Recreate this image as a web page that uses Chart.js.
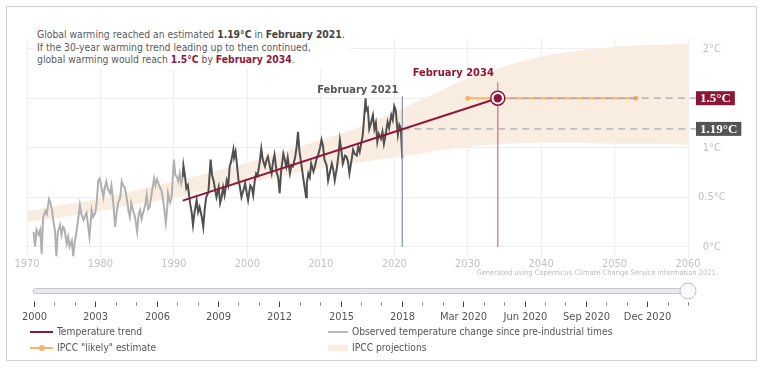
<!DOCTYPE html>
<html>
<head>
<meta charset="utf-8">
<script src="https://cdn.jsdelivr.net/npm/chart.js@4.4.0/dist/chart.umd.min.js"></script>
<style>
  html, body { margin: 0; padding: 0; background: #fff; }
  #wrap { position: relative; width: 768px; height: 369px; overflow: hidden;
          font-family: "DejaVu Sans Condensed", "DejaVu Sans", sans-serif; }
  #frame { position: absolute; left: 6px; top: 6px; width: 751px; height: 355px;
           border: 1px solid #d2d2d2; box-sizing: border-box; }
  canvas { position: absolute; left: 0; top: 0; }
  #note { position: absolute; left: 33px; top: 27px; font-size: 10.3px; line-height: 12.6px;
          color: #5a5a5a; background: #fff; padding: 1px 4px 3px 4px; }
  #note b { color: #444; }
  #note .hl { color: #8c1a3e; }
  .leg { position: absolute; font-size: 10.2px; color: #555; line-height: 12px; white-space: nowrap; }
  .sw { position: absolute; }
</style>
</head>
<body>
<div id="wrap">
  <div id="frame"></div>
  <canvas id="chart" width="768" height="369"></canvas>
  <div id="note">
    Global warming reached an estimated <b>1.19°C</b> in <b>February 2021</b>.<br>
    If the 30-year warming trend leading up to then continued,<br>
    global warming would reach <b class="hl">1.5°C</b> by <b class="hl">February 2034</b>.
  </div>
  <div class="sw" style="left:30px;top:331px;width:23px;height:2px;background:#8c1538"></div>
  <div class="leg" style="left:57px;top:326px">Temperature trend</div>
  <div class="sw" style="left:30px;top:347px;width:23px;height:2px;background:#f3b56a"></div>
  <div class="sw" style="left:39px;top:345px;width:6px;height:6px;border-radius:3px;background:#f3b56a"></div>
  <div class="leg" style="left:57px;top:342px">IPCC "likely" estimate</div>
  <div class="sw" style="left:328px;top:331px;width:20px;height:2px;background:#b8b8b8"></div>
  <div class="leg" style="left:352px;top:326px">Observed temperature change since pre-industrial times</div>
  <div class="sw" style="left:328px;top:345px;width:20px;height:6px;background:#f9ece1"></div>
  <div class="leg" style="left:352px;top:342px">IPCC projections</div>
</div>
<script>
// observed warming (°C above pre-industrial)
const obsYears = [
  1970.9, 1971.1, 1971.3, 1971.6, 1971.8, 1972.0, 1972.2, 1972.5, 1972.7, 1973.0,
  1973.2, 1973.4, 1973.6, 1973.8, 1974.0, 1974.2, 1974.5, 1974.7, 1974.9, 1975.1,
  1975.4, 1975.6, 1975.8, 1976.1, 1976.3, 1976.5, 1976.7, 1977.0, 1977.2, 1977.4,
  1977.7, 1977.9, 1978.1, 1978.3, 1978.5, 1978.8, 1979.0, 1979.3, 1979.5, 1979.7,
  1979.9, 1980.2, 1980.4, 1980.6, 1980.8, 1981.0, 1981.3, 1981.5, 1981.8, 1982.0,
  1982.2, 1982.4, 1982.7, 1982.9, 1983.1, 1983.3, 1983.6, 1983.8, 1984.0, 1984.2,
  1984.5, 1984.7, 1985.0, 1985.2, 1985.4, 1985.6, 1985.8, 1986.1, 1986.3, 1986.5,
  1986.7, 1987.0, 1987.3, 1987.5, 1987.7, 1987.9, 1988.1, 1988.3, 1988.6, 1988.9,
  1989.1, 1989.2, 1989.5, 1989.7, 1990.0, 1990.2, 1990.4, 1990.6, 1990.8, 1991.0,
  1991.2, 1991.3, 1991.5, 1991.7, 1991.9, 1992.2, 1992.4, 1992.6, 1992.8, 1993.1,
  1993.3, 1993.5, 1993.8, 1994.0, 1994.2, 1994.4, 1994.7, 1995.0, 1995.2, 1995.4,
  1995.6, 1995.8, 1996.1, 1996.3, 1996.5, 1996.7, 1996.9, 1997.2, 1997.4, 1997.6,
  1997.8, 1998.1, 1998.2, 1998.4, 1998.6, 1998.8, 1999.0, 1999.2, 1999.5, 1999.7,
  1999.9, 2000.1, 2000.4, 2000.6, 2000.8, 2001.0, 2001.2, 2001.4, 2001.7, 2001.9,
  2002.1, 2002.4, 2002.6, 2002.8, 2003.1, 2003.3, 2003.5, 2003.7, 2004.0, 2004.2,
  2004.4, 2004.6, 2004.9, 2005.1, 2005.3, 2005.5, 2005.8, 2006.0, 2006.2, 2006.5,
  2006.7, 2006.9, 2007.1, 2007.4, 2007.6, 2007.8, 2008.0, 2008.1, 2008.3, 2008.5,
  2008.7, 2009.0, 2009.2, 2009.4, 2009.7, 2009.9, 2010.1, 2010.3, 2010.5, 2010.8,
  2011.0, 2011.2, 2011.5, 2011.7, 2011.9, 2012.2, 2012.4, 2012.6, 2012.8, 2013.0,
  2013.3, 2013.5, 2013.7, 2013.9, 2014.2, 2014.4, 2014.6, 2014.9, 2015.1, 2015.3,
  2015.5, 2015.7, 2015.9, 2016.1, 2016.2, 2016.4, 2016.6, 2016.8, 2017.1, 2017.3,
  2017.5, 2017.7, 2017.9, 2018.2, 2018.4, 2018.6, 2018.8, 2019.1, 2019.3, 2019.6,
  2019.8, 2020.0, 2020.2, 2020.5, 2020.7, 2020.9, 2021.1
];
const obsTemps = [
  0.15, 0.00, 0.17, 0.12, 0.17, -0.07, 0.30, 0.36, 0.33, 0.48,
  0.44, 0.37, 0.25, 0.17, -0.10, 0.15, 0.22, 0.12, 0.20, 0.18,
  0.03, 0.10, 0.00, 0.06, -0.10, 0.05, 0.13, 0.30, 0.42, 0.33,
  0.27, 0.31, 0.34, 0.22, 0.10, 0.37, 0.30, 0.34, 0.45, 0.67,
  0.69, 0.58, 0.50, 0.60, 0.66, 0.58, 0.54, 0.62, 0.40, 0.20,
  0.34, 0.44, 0.50, 0.66, 0.62, 0.60, 0.48, 0.37, 0.30, 0.44,
  0.35, 0.30, 0.15, 0.33, 0.37, 0.28, 0.34, 0.42, 0.52, 0.38,
  0.40, 0.55, 0.69, 0.62, 0.68, 0.64, 0.60, 0.57, 0.44, 0.24,
  0.40, 0.54, 0.45, 0.50, 0.88, 0.72, 0.71, 0.66, 0.74, 0.64,
  0.70, 0.82, 0.72, 0.59, 0.62, 0.44, 0.36, 0.22, 0.34, 0.47,
  0.35, 0.40, 0.30, 0.20, 0.38, 0.50, 0.55, 0.88, 0.72, 0.67,
  0.58, 0.50, 0.60, 0.44, 0.50, 0.60, 0.52, 0.67, 0.62, 0.81,
  0.86, 0.98, 0.90, 0.96, 0.82, 0.67, 0.60, 0.50, 0.58, 0.64,
  0.55, 0.47, 0.62, 0.60, 0.52, 0.66, 0.74, 0.72, 0.86, 0.99,
  0.88, 0.81, 0.87, 0.91, 0.80, 0.74, 0.86, 0.93, 0.75, 0.70,
  0.54, 0.76, 0.94, 0.88, 0.81, 0.90, 0.74, 0.82, 0.81, 0.90,
  1.00, 1.16, 0.96, 0.81, 0.70, 0.60, 0.50, 0.64, 0.74, 0.70,
  0.84, 0.76, 0.81, 0.88, 0.94, 1.00, 1.08, 1.02, 0.88, 0.82,
  0.67, 0.74, 0.84, 0.78, 0.67, 0.80, 0.92, 1.08, 0.98, 0.84,
  0.92, 0.91, 0.86, 0.74, 0.88, 0.98, 0.94, 0.92, 1.01, 0.96,
  1.04, 1.12, 1.30, 1.50, 1.38, 1.40, 1.19, 1.24, 1.33, 1.19,
  1.25, 1.06, 1.14, 1.09, 1.16, 1.04, 1.12, 1.26, 1.20, 1.33,
  1.28, 1.42, 1.38, 1.13, 1.23, 1.20, 0.89
];
const trendStart = 1991.2;   // start of the 30-year window

// IPCC projection band
const bandYears = [1970, 1975, 1980, 1985, 1990, 1995, 2000, 2005, 2010, 2015, 2020, 2025, 2030, 2035, 2040, 2045, 2050, 2055, 2060];
const bandHigh  = [0.36, 0.42, 0.49, 0.57, 0.66, 0.75, 0.85, 0.96, 1.08, 1.20, 1.36, 1.53, 1.70, 1.82, 1.92, 1.98, 2.02, 2.04, 2.05];
const bandLow   = [0.25, 0.30, 0.36, 0.43, 0.50, 0.57, 0.64, 0.72, 0.79, 0.85, 0.90, 0.96, 1.01, 1.04, 1.05, 1.05, 1.04, 1.04, 1.03];

// trend and milestones
const trendYears = [1991.2, 2034.1];
const trendTemps = [0.465, 1.5];
const nowYear = 2021.1, nowTemp = 1.19, nowLabel = "February 2021";
const hitYear = 2034.1, hitTemp = 1.5, hitLabel = "February 2034";
const likelyYears = [2030, 2052.9];
const boxEndYear = 2061.1;

const xTicks = [1970, 1980, 1990, 2000, 2010, 2020, 2030, 2040, 2050, 2060];
const yTicks = [0, 0.5, 1, 1.5, 2];
const sliderLabels = ["2000", "2003", "2006", "2009", "2012", "2015", "2018", "Mar 2020", "Jun 2020", "Sep 2020", "Dec 2020"];

const FONT = '"DejaVu Sans Condensed", "DejaVu Sans", sans-serif';
const MAROON = "#8c1538";
const ORANGE = "#f3b56a";
const PEACH = "#f9ece1";

const pts = (xs, ys) => xs.map((x, i) => ({ x: x, y: ys[i] }));
const obsAll = pts(obsYears, obsTemps);
const obsLight = obsAll.filter(p => p.x <= trendStart);
const obsDark = obsAll.filter(p => p.x >= trendStart);

const line = (data, color, width, order, extra) => Object.assign({
  data: data, borderColor: color, borderWidth: width, pointRadius: 0,
  fill: false, tension: 0, order: order
}, extra || {});

const overlay = {
  id: "overlay",
  afterDatasetsDraw(chart) {
    const ctx = chart.ctx, xs = chart.scales.x, ys = chart.scales.y;
    ctx.save();
    // milestone labels
    ctx.textBaseline = "middle";
    ctx.textAlign = "right";
    ctx.font = "bold 11px " + FONT;
    ctx.fillStyle = "#555";
    ctx.fillText(nowLabel, xs.getPixelForValue(nowYear) - 4, 90);
    ctx.fillStyle = MAROON;
    ctx.fillText(hitLabel, xs.getPixelForValue(hitYear) - 4, 73);

    // value boxes on the right
    const boxX = xs.right + 8;
    ctx.font = "bold 13px 'Liberation Serif', serif";
    [[hitTemp, MAROON], [nowTemp, "#555"]].forEach(([v, col]) => {
      const t = v + "°C";
      const w = ctx.measureText(t).width + 8;
      const cy = ys.getPixelForValue(v);
      ctx.fillStyle = col;
      ctx.fillRect(boxX, cy - 7, w, 14);
      ctx.fillStyle = "#fff";
      ctx.textAlign = "left";
      ctx.fillText(t, boxX + 4, cy + 0.5);
    });

    // source credit
    ctx.font = "7.5px " + FONT;
    ctx.fillStyle = "#bdbdbd";
    ctx.textAlign = "right";
    ctx.fillText("Generated using Copernicus Climate Change Service information 2021.", 718, 273);

    // time slider
    const sl = 33, sr = 690, sy = 291;
    ctx.fillStyle = "#e9e9ee";
    ctx.strokeStyle = "#c8c8cc";
    ctx.lineWidth = 1;
    ctx.beginPath();
    ctx.roundRect(sl, sy - 2.5, sr - sl, 5, 2.5);
    ctx.fill(); ctx.stroke();
    ctx.beginPath();
    ctx.arc(688, sy, 8, 0, Math.PI * 2);
    ctx.fillStyle = "#fafafa"; ctx.fill();
    ctx.strokeStyle = "#bfc0c8"; ctx.stroke();

    const t0 = 34, t1 = 688, n = 32;
    ctx.font = "11px " + FONT;
    ctx.textAlign = "center";
    for (let i = 0; i <= n; i++) {
      const x = Math.round(t0 + (t1 - t0) * i / n) + 0.5;
      const major = i % 3 === 0;
      ctx.strokeStyle = major ? "#444" : "#777";
      ctx.beginPath();
      ctx.moveTo(x, major ? 301.5 : 302.5);
      ctx.lineTo(x, major ? 307 : 305.5);
      ctx.stroke();
      if (major && sliderLabels[i / 3]) {
        ctx.fillStyle = "#555";
        ctx.fillText(sliderLabels[i / 3], x, 317);
      }
    }
    ctx.restore();
  }
};

new Chart(document.getElementById("chart").getContext("2d"), {
  type: "line",
  data: {
    datasets: [
      line(pts(bandYears, bandHigh), PEACH, 0, 20, { fill: "+1", backgroundColor: PEACH, cubicInterpolationMode: "monotone" }),
      line(pts(bandYears, bandLow), PEACH, 0, 21, { cubicInterpolationMode: "monotone" }),
      line(obsLight, "#b0b0b0", 2, 19),
      line(obsDark, "#505050", 2, 18),
      line([{ x: nowYear, y: nowTemp }, { x: boxEndYear, y: nowTemp }], "#aaaaaa", 1.3, 17, { borderDash: [7, 5], clip: false }),
      line([{ x: nowYear, y: 0 }, { x: nowYear, y: 1.52 }], "#8e97ab", 1.3, 16),
      line([{ x: hitYear, y: 0 }, { x: hitYear, y: 1.66 }], "#c47a8f", 1.3, 15),
      line(pts(trendYears, trendTemps), MAROON, 2, 14),
      line(pts(likelyYears, [hitTemp, hitTemp]), ORANGE, 2, 13, { pointRadius: 2.5, pointBackgroundColor: ORANGE, pointBorderWidth: 0 }),
      line([{ x: hitYear, y: hitTemp }, { x: boxEndYear, y: hitTemp }], "#b3a0a6", 1.3, 12, { borderDash: [7, 5], clip: false }),
      line([{ x: hitYear, y: hitTemp }], MAROON, 0, 11, { showLine: false, pointRadius: 7, pointBackgroundColor: "#fff", pointBorderColor: MAROON, pointBorderWidth: 1.5 }),
      line([{ x: hitYear, y: hitTemp }], MAROON, 0, 10, { showLine: false, pointRadius: 4.2, pointBackgroundColor: MAROON, pointBorderWidth: 0 })
    ]
  },
  options: {
    responsive: false,
    animation: false,
    layout: { padding: { left: 27, top: 38.8, right: 32, bottom: 90.4 } },
    plugins: { legend: { display: false }, tooltip: { enabled: false } },
    scales: {
      x: {
        type: "linear", min: 1970, max: 2060,
        afterBuildTicks: s => { s.ticks = xTicks.map(v => ({ value: v })); },
        afterFit: s => { s.height = 22; },
        grid: { color: "#eeeeee", drawTicks: false },
        border: { display: false },
        ticks: { color: "#c2c2c2", font: { family: FONT, size: 11 }, padding: 1, callback: v => v }
      },
      y: {
        position: "right", min: -0.1, max: 2.1,
        afterBuildTicks: s => { s.ticks = yTicks.map(v => ({ value: v })); },
        afterFit: s => { s.width = 48; },
        grid: { color: "#eeeeee", drawTicks: false },
        border: { display: false },
        ticks: { color: "#c2c2c2", font: { family: FONT, size: 11 }, padding: 10, crossAlign: "center", callback: v => v + "°C" }
      }
    }
  },
  plugins: [overlay]
});
</script>
</body>
</html>
